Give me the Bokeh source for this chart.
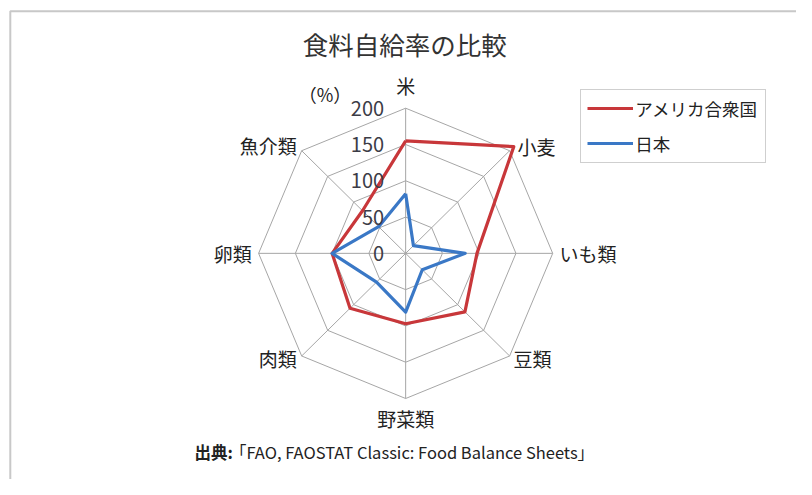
import numpy as np
from bokeh.plotting import figure
from bokeh.models import Range1d, Legend, LegendItem
from bokeh.core.properties import value
from bokeh.embed import file_html
from bokeh.resources import INLINE

# ---- data ----
categories = ["米", "小麦", "いも類", "豆類", "野菜類", "肉類", "卵類", "魚介類"]
usa = [155, 208, 97, 114, 97, 107, 100, 83]
japan = [82, 15, 81, 32, 81, 56, 100, 52]
ring_ticks = [0, 50, 100, 150, 200]
series_names = ["アメリカ合衆国", "日本"]
title_text = "食料自給率の比較"
source_head = "出典:"
source_body = "「FAO, FAOSTAT Classic: Food Balance Sheets」"
unit_text = "（%）"

FONT = "Noto Sans CJK JP"
W, H = 796, 479            # figure size (fits 812x495 window with 8px margin)
RW, RH = 812, 495          # design canvas
S = 0.75                   # design px per percent
CX, CY = 413.3, 261.3      # chart centre on design canvas

p = figure(width=W, height=H,
           x_range=Range1d(-CX / S, (RW - CX) / S),
           y_range=Range1d(-(RH - CY) / S, CY / S),
           output_backend="svg", toolbar_location=None, min_border=0)
p.axis.visible = False
p.grid.visible = False
p.outline_line_color = None
p.background_fill_color = "white"
p.border_fill_color = "white"


def px(sx, sy):
    """design-canvas pixel -> data coords"""
    return (sx - CX) / S, -(sy - CY) / S


# outer frame (left and top edges)
fx, fy = px(10, 11)
bx, by = px(10, 520)
rx, ry = px(840, 11)
p.line([bx, fx, rx], [by, fy, ry], line_color="#c8c8c8", line_width=2)

n = len(categories)
ang = np.pi / 2 - np.arange(n) * 2 * np.pi / n
rmax = max(ring_ticks)

# grid rings
for r in ring_ticks[1:]:
    xs = list(r * np.cos(ang)) + [r * np.cos(ang[0])]
    ys = list(r * np.sin(ang)) + [r * np.sin(ang[0])]
    p.line(xs, ys, line_color="#a6a6a6", line_width=1)
# spokes
for a in ang:
    p.line([0, rmax * np.cos(a)], [0, rmax * np.sin(a)], line_color="#a6a6a6", line_width=1)

# series
renderers = []
for vals, col in [(usa, "#c8373a"), (japan, "#3a78c6")]:
    v = np.array(vals, dtype=float)
    xs = list(v * np.cos(ang)) + [v[0] * np.cos(ang[0])]
    ys = list(v * np.sin(ang)) + [v[0] * np.sin(ang[0])]
    renderers.append(p.line(xs, ys, line_color=col, line_width=3.2, line_join="round"))

# tick labels along the vertical axis
p.text(x=[-22 / S] * len(ring_ticks), y=ring_ticks, text=[str(t) for t in ring_ticks],
       text_font=value(FONT), text_font_size="20px", text_color="#3c3c46",
       text_align="right", text_baseline="middle")

# category labels
off = [(0, -23), (8, -4), (7, 0), (4, 3), (0, 21), (-5, 3), (-7, 0), (-5, -5)]
aligns = ["center", "left", "left", "left", "center", "right", "right", "right"]
lx, ly = [], []
for a, (dx, dy) in zip(ang, off):
    lx.append(rmax * np.cos(a) + dx / S)
    ly.append(rmax * np.sin(a) - dy / S)
p.text(x=lx, y=ly, text=categories, text_font=value(FONT), text_font_size="19px",
       text_color="#222222", text_align=aligns, text_baseline="middle")

# unit
ux, uy = px(331, 97)
p.text(x=[ux], y=[uy], text=[unit_text], text_font=value(FONT), text_font_size="18px",
       text_color="#222222", text_align="center", text_baseline="middle")

# title
tx, ty = px(412.5, 44)
p.text(x=[tx], y=[ty], text=[title_text], text_font=value(FONT), text_font_size="25.5px",
       text_color="#333333", text_align="center", text_baseline="middle")

# source
sx, sy = px(198, 467)
p.text(x=[sx], y=[sy], text=[source_head], text_font=value(FONT), text_font_size="16.5px",
       text_font_style="bold", text_color="#222222", text_align="left", text_baseline="middle")
sx2, sy2 = px(234, 467)
p.text(x=[sx2], y=[sy2], text=[source_body], text_font=value(FONT), text_font_size="16.5px",
       text_color="#222222", text_align="left", text_baseline="middle")

kx, ky = W / RW, H / RH
legend = Legend(items=[LegendItem(label=series_names[0], renderers=[renderers[0]]),
                       LegendItem(label=series_names[1], renderers=[renderers[1]])],
                location=(592 * kx, (RH - 168) * ky), orientation="vertical")
legend.padding = 6
legend.spacing = 10
legend.margin = 0
legend.glyph_width = 46
legend.glyph_height = 20
legend.label_height = 20
legend.label_width = 124
legend.label_standoff = 2
legend.label_text_font = FONT
legend.label_text_font_size = "17.5px"
legend.label_text_color = "#222222"
legend.border_line_color = "#a0a0a0"
legend.border_line_width = 1.5
legend.background_fill_alpha = 1
p.add_layout(legend, "center")

open("out.html", "w").write(file_html(p, INLINE))
